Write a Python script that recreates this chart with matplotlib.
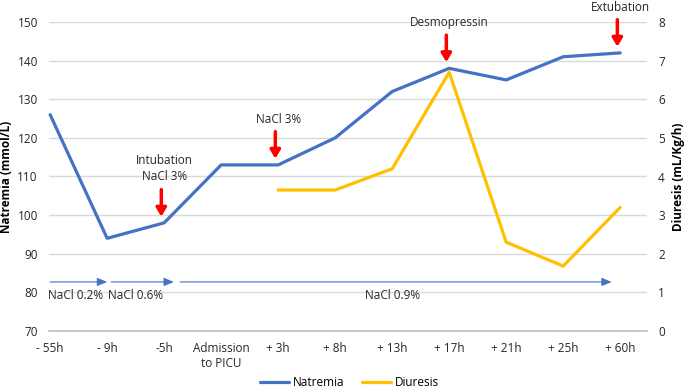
import matplotlib
matplotlib.use("Agg")
import matplotlib.pyplot as plt

plt.rcParams['font.family'] = ['Open Sans', 'DejaVu Sans']

categories = ["- 55h", "- 9h", "-5h", "Admission\nto PICU", "+ 3h", "+ 8h", "+ 13h",
              "+ 17h", "+ 21h", "+ 25h", "+ 60h"]
natremia = [126, 94, 98, 113, 113, 120, 132, 138, 135, 141, 142]
diuresis_cats = ["+ 3h", "+ 8h", "+ 13h", "+ 17h", "+ 21h", "+ 25h", "+ 60h"]
diuresis = [3.65, 3.65, 4.2, 6.7, 2.3, 1.68, 3.2]

# infusions: (start, end, label, label position) in category units
infusions = [(0.0, 1.0, "NaCl 0.2%", 0.45), (1.07, 2.17, "NaCl 0.6%", 1.5),
             (2.28, 9.85, "NaCl 0.9%", 6.0)]
# events: (category index, text)
events = [(2, "Intubation\nNaCl 3%"), (4, "NaCl 3%"), (7, "Desmopressin"), (10, "Extubation")]

blue = "#4472C4"
yellow = "#FFC000"
grid = "#D9D9D9"

fig = plt.figure(figsize=(6.85, 3.9), dpi=100)
ax = fig.add_axes([49/685, 59/390, 598/685, 309/390])
ax2 = ax.twinx()

x = list(range(len(categories)))
ax.plot(x, natremia, color=blue, lw=2.3, label="Natremia", solid_joinstyle='round',
        solid_capstyle='round', zorder=3, clip_on=False)
xd = [categories.index(c) for c in diuresis_cats]
ax2.plot(xd, diuresis, color=yellow, lw=2.3, label="Diuresis", solid_joinstyle='round',
         solid_capstyle='round', zorder=3, clip_on=False)

ax.set_xlim(-0.02, 10.47)
ax.set_ylim(70, 150)
ax2.set_ylim(0, 8)
ax.set_yticks(range(70, 151, 10))
ax2.set_yticks(range(0, 9))
ax.set_xticks(x)
ax.set_xticklabels(categories, fontsize=8.5, color="#262626")
ax.tick_params(axis='x', length=0, pad=8)
ax.tick_params(axis='y', length=0, labelsize=8.5, labelcolor="#262626", pad=8)
ax2.tick_params(axis='y', length=0, labelsize=8.5, labelcolor="#262626", pad=8)
for a in (ax, ax2):
    for s in a.spines.values():
        s.set_visible(False)
ax.spines['bottom'].set_visible(True)
ax.spines['bottom'].set_color("#BFBFBF")
ax.spines['bottom'].set_linewidth(1.2)
ax.grid(axis='y', color=grid, lw=1)
ax.set_axisbelow(True)

ax.set_ylabel("Natremia (mmol/L)", fontsize=8.5, fontweight='bold', labelpad=3)
ax2.set_ylabel("Diuresis (mL/Kg/h)", fontsize=8.5, fontweight='bold', labelpad=5)

# infusion arrows
for s, e, lab, lx in infusions:
    ax.annotate("", xy=(e, 82.7), xytext=(s, 82.7),
                arrowprops=dict(arrowstyle="-|>,head_length=0.6,head_width=0.25",
                                color=blue, lw=0.8, shrinkA=0, shrinkB=0))
    ax.text(lx, 79.3, lab, ha='center', va='center', fontsize=8.5, color="#262626")

# event arrows
for i, txt in events:
    y_tip = natremia[i] + 1.6
    y_start = y_tip + 7
    ax2.annotate("", xy=(i - 0.05, (y_tip - 70) / 10), xytext=(i - 0.05, (y_start - 70) / 10),
                 arrowprops=dict(arrowstyle="-|>,head_length=0.5,head_width=0.3",
                                 color="#FF0000", lw=2.5, shrinkA=0, shrinkB=0),
                 annotation_clip=False)
    ax2.text(i, (y_start + 1.6 - 70) / 10, txt, ha='center', va='bottom', fontsize=8.5,
             color="#262626", linespacing=1.3, clip_on=False)

h1, l1 = ax.get_legend_handles_labels()
h2, l2 = ax2.get_legend_handles_labels()
fig.legend(h1 + h2, l1 + l2, loc='lower center', bbox_to_anchor=(0.51, -0.025), ncol=2,
           frameon=False, fontsize=8.5, handlelength=2.5, columnspacing=1.5,
           handletextpad=0.3)

fig.savefig("out.png", dpi=100)
